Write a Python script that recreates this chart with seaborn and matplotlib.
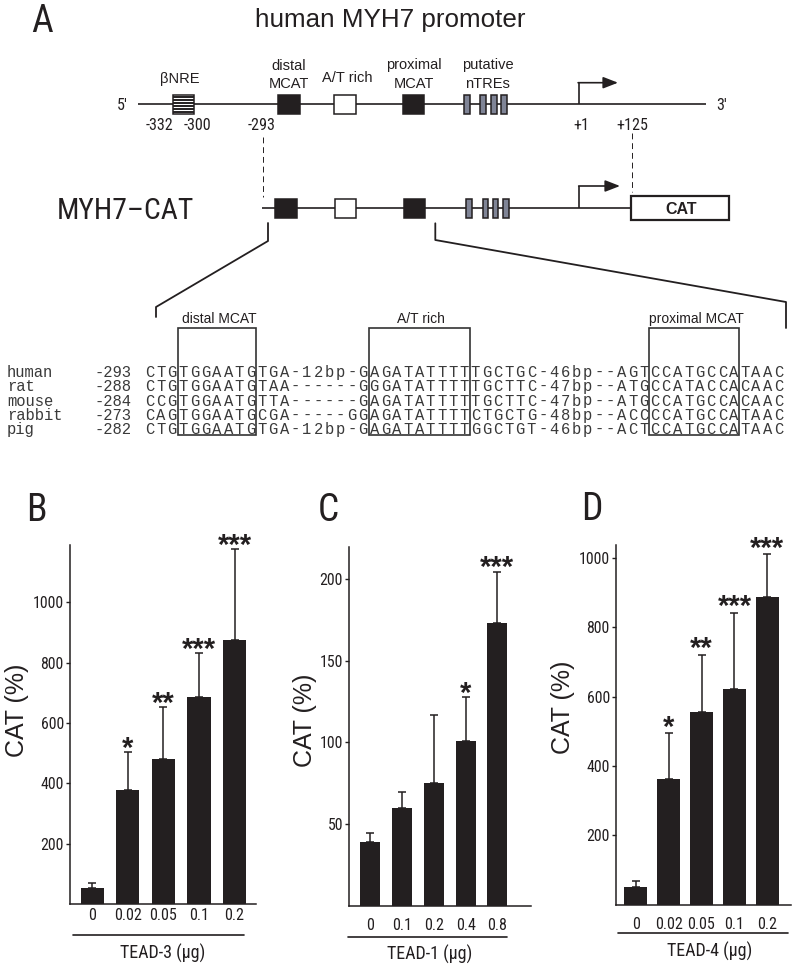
import numpy as np
import pandas as pd
import matplotlib
matplotlib.use("Agg")
import matplotlib.pyplot as plt
import seaborn as sns
from matplotlib import font_manager
from matplotlib.font_manager import FontProperties
from matplotlib.textpath import TextPath
from matplotlib.patches import Rectangle

# ---------------- data ----------------
tead3_doses = ["0", "0.02", "0.05", "0.1", "0.2"]
tead3_mean = [53, 379, 479, 687, 874]
tead3_err = [16, 125, 174, 146, 302]
tead3_sig = ["", "*", "**", "***", "***"]

tead1_doses = ["0", "0.1", "0.2", "0.4", "0.8"]
tead1_mean = [39, 60, 75, 101, 173]
tead1_err = [5.5, 10, 42, 26.5, 31.5]
tead1_sig = ["", "", "", "*", "***"]

tead4_doses = ["0", "0.02", "0.05", "0.1", "0.2"]
tead4_mean = [51, 363, 556, 622, 887]
tead4_err = [15.5, 131, 164, 221, 124]
tead4_sig = ["", "*", "**", "***", "***"]

species = ["human", "rat", "mouse", "rabbit", "pig"]
seq_start = ["-293", "-288", "-284", "-273", "-282"]
sequences = [
    "CTGTGGAATGTGA-12bp-GAGATATTTTTGCTGC-46bp--AGTCCATGCCATAAC",
    "CTGTGGAATGTAA------GGGATATTTTTGCTTC-47bp--ATGCCATACCACAAC",
    "CCGTGGAATGTTA------GAGATATTTTTGCTTC-47bp--ATGCCATGCCACAAC",
    "CAGTGGAATGCGA-----GGAGATATTTTCTGCTG-48bp--ACCCCATGCCATAAC",
    "CTGTGGAATGTGA-12bp-GAGATATTTTGGCTGT-46bp--ACTCCATGCCATAAC",
]
motif_names = ["distal MCAT", "A/T rich", "proximal MCAT"]
motif_chars = [(3, 10), (20, 29), (45, 53)]   # character spans in the alignment

# ---------------- style ----------------
sns.set_style("ticks")
REG = "Liberation Sans"
MONO = "Liberation Mono"
plt.rcParams["font.family"] = [REG, "DejaVu Sans"]
INK = "#231f20"


def find_narrow():
    prefs = ["Liberation Sans Narrow", "Arial Narrow", "Roboto Condensed", "Noto Sans",
             "Open Sans", "DejaVu Sans", "Lato", "Inter"]
    stretch_rank = {"condensed": 0, "semi-condensed": 1, "extra-condensed": 2,
                    "ultra-condensed": 3}
    cands = []
    for f in font_manager.fontManager.ttflist:
        narrowish = ("Narrow" in f.name or "Condensed" in f.name
                     or str(f.stretch) in stretch_rank)
        if not narrowish or f.style != "normal":
            continue
        try:
            w = int(f.weight)
        except (TypeError, ValueError):
            w = 400 if str(f.weight) in ("normal", "regular", "book") else 700
        if w != 400:
            continue
        base = next((i for i, p in enumerate(prefs) if f.name.startswith(p)), len(prefs))
        cands.append((base, stretch_rank.get(str(f.stretch), 0), f.fname))
    if not cands:
        return FontProperties(family=REG)
    cands.sort()
    return FontProperties(fname=cands[0][2])


NFP = find_narrow()


def ink_width(s, fp, pt):
    tp = TextPath((0, 0), s, size=pt * 100 / 72, prop=fp)
    return tp.get_extents().width


# scale narrow sizes so that widths match the reference
NK = min(1.05, 134.0 / ink_width("MYH7–CAT", NFP, 22))


def nfp(pt):
    p = NFP.copy()
    p.set_size(pt * NK)
    return p


W, H = 796, 967
fig = plt.figure(figsize=(W / 100, H / 100), dpi=100)


def add_ax(l, r, t, b):
    return fig.add_axes([l / W, 1 - b / H, (r - l) / W, (b - t) / H])


panels = [
    dict(box=(70, 256, 545, 904), doses=tead3_doses, mean=tead3_mean, err=tead3_err,
         sig=tead3_sig, xlim=(-0.62, 4.6), ylim=1190, ticks=[200, 400, 600, 800, 1000],
         width=0.65, xpad=2.9, star_off=-3.5),
    dict(box=(349.3, 530.7, 547, 906), doses=tead1_doses, mean=tead1_mean, err=tead1_err,
         sig=tead1_sig, xlim=(-0.66, 5.05), ylim=219.5, ticks=[50, 100, 150, 200],
         width=0.63, xpad=8.6, star_off=-3.2),
    dict(box=(616, 790.7, 545, 904.5), doses=tead4_doses, mean=tead4_mean, err=tead4_err,
         sig=tead4_sig, xlim=(-0.6, 4.71), ylim=1038, ticks=[200, 400, 600, 800, 1000],
         width=0.7, xpad=9.0, star_off=-1.6),
]

for p in panels:
    ax = add_ax(*p["box"])
    df = pd.DataFrame({"dose": p["doses"], "cat": p["mean"]})
    sns.barplot(data=df, x="dose", y="cat", order=p["doses"], color=INK, width=p["width"],
                saturation=1, edgecolor=INK, linewidth=0, errorbar=None, ax=ax)
    xs = np.arange(len(p["doses"]))
    ax.errorbar(xs, p["mean"], yerr=[np.zeros(len(xs)), p["err"]], fmt="none",
                ecolor=INK, elinewidth=1.1, capsize=3.2, capthick=1.1, zorder=3)
    ax.set_xlim(*p["xlim"])
    ax.set_ylim(0, p["ylim"])
    ax.set_yticks(p["ticks"])
    ax.set_yticklabels([str(t) for t in p["ticks"]])
    ax.tick_params(axis="y", length=3, width=1, pad=1.5, colors=INK)
    ax.tick_params(axis="x", length=0, pad=p["xpad"], colors=INK)
    for lab in ax.get_yticklabels():
        lab.set_fontproperties(nfp(11.8))
    for lab in ax.get_xticklabels():
        lab.set_fontproperties(nfp(12))
    sns.despine(ax=ax)
    for s in ("left", "bottom"):
        ax.spines[s].set_linewidth(1.1)
        ax.spines[s].set_color(INK)
    ax.set_xlabel("")
    ax.set_ylabel("")
    ax.patch.set_alpha(0)
    for i, s in enumerate(p["sig"]):
        if s:
            ax.annotate(s, (i, p["mean"][i] + p["err"][i]), xytext=(0, p["star_off"]),
                        textcoords="offset points", ha="center", va="baseline",
                        fontsize=21, fontweight="bold", family=REG, color=INK)

# ---------------- overlay (panel A & annotations) ----------------
ov = fig.add_axes([0, 0, 1, 1], zorder=10)
ov.set_xlim(0, W)
ov.set_ylim(H, 0)
ov.axis("off")
ov.patch.set_alpha(0)


def T(x, yc, s, pt, fam=REG, narrow=False, ha="center", **kw):
    """text whose cap-height centre sits at yc (pixel coords)"""
    if narrow:
        fp = nfp(pt)
        size = pt * NK
        ov.text(x, yc + 0.5 * size, s, fontproperties=fp, ha=ha, va="baseline",
                color=INK, **kw)
    else:
        ov.text(x, yc + 0.5 * pt, s, fontsize=pt, family=[fam, "DejaVu Sans"], ha=ha,
                va="baseline", color=INK, **kw)


def TB(x, base, s, pt, fam=REG, ha="center", **kw):
    ov.text(x, base, s, fontsize=pt, family=[fam, "DejaVu Sans"], ha=ha,
            va="baseline", color=INK, **kw)


# panel letters
T(42, 18, "A", 28, narrow=True)
T(36, 507, "B", 28, narrow=True)
T(328, 507, "C", 28, narrow=True)
T(592, 506, "D", 28, narrow=True)

# title
T(390, 18, "human MYH7 promoter", 18.7)

LW = 1.2
# top promoter line
y0 = 104.3
ov.plot([138, 706], [y0, y0], color=INK, lw=LW, solid_capstyle="butt")
T(122, y0, "5'", 12, narrow=True)
T(722, y0, "3'", 12, narrow=True)

bh = 19.5


def box(x0, x1, yc, fc, h=bh, lw=1.1):
    ov.add_patch(Rectangle((x0, yc - h / 2), x1 - x0, h, facecolor=fc, edgecolor=INK,
                           lw=lw, zorder=5))


# beta NRE striped box
box(172.7, 193.5, y0, "white")
ov.hlines(np.linspace(y0 - bh / 2 + 2.3, y0 + bh / 2 - 2.3, 6), 172.7, 193.5, color=INK,
          lw=1.4, zorder=6)
box(278.3, 300, y0, INK)
box(334, 355.7, y0, "white")
box(403.3, 424.3, y0, INK)
NTRE = "#7f8496"
for a, b in [(464.3, 470), (480.3, 486), (491, 496.7), (501, 506.7)]:
    box(a, b, y0, NTRE)

# labels above
TB(180, 83, "βNRE", 10.5)
TB(289, 69.5, "distal", 10.5)
TB(289, 87.5, "MCAT", 10.5)
TB(347, 82, "A/T rich", 10.5)
TB(414, 68.5, "proximal", 10.5)
TB(414, 88, "MCAT", 10.5)
TB(487.7, 68.5, "putative", 10.5)
TB(487.7, 87.5, "nTREs", 10.5)

# numbers below
for x, s in [(159, "-332"), (197, "-300"), (262, "-293"), (581, "+1"), (632.7, "+125")]:
    T(x, 124, s, 12, narrow=True)


def tss(x, ybase, ytop, xend):
    ov.plot([x, x], [ybase, ytop], color=INK, lw=LW, solid_capstyle="butt")
    ov.annotate("", xy=(xend, ytop), xytext=(x - 0.6, ytop),
                arrowprops=dict(arrowstyle="-|>,head_length=0.9,head_width=0.35",
                                lw=LW, color=INK, shrinkA=0, shrinkB=0))


tss(578.7, y0, 82.7, 618)

# dashed projection lines
ov.plot([263.3, 263.3], [136.7, 196.7], color=INK, lw=0.7, dashes=(6, 4))
ov.plot([631.7, 631.7], [133, 191.7], color=INK, lw=0.7, dashes=(6, 4))

# MYH7-CAT construct
y1 = 208.3
T(125.5, y1, "MYH7–CAT", 22, narrow=True)
ov.plot([261.7, 631], [y1, y1], color=INK, lw=LW, solid_capstyle="butt")
box(275, 296.7, y1, INK)
box(335, 356, y1, "white")
box(404, 425.3, y1, INK)
for a, b in [(466, 472), (482.7, 488.3), (493.3, 498.3), (502.7, 508.7)]:
    box(a, b, y1, NTRE)
tss(579.3, y1, 186, 620)
ov.add_patch(Rectangle((631, 196), 98.3, 24, facecolor="white", edgecolor=INK, lw=1.6,
                       zorder=5))
T(681, 208, "CAT", 11.5, fontweight="bold", zorder=7)

# zoom brackets
ov.plot([268, 268, 156, 156], [223, 241, 307, 317], color=INK, lw=1.3)
ov.plot([435.3, 435.3, 786, 786], [223.3, 240, 302, 328], color=INK, lw=1.3)

# ---------------- alignment ----------------
ADV = 11.23          # letter-spaced sequence pitch (px)
SX = 144.0
MONO_PT = 11.2
SEQ_COL = "#3a3a3a"
base0 = 376.7
dy = 14.4
for i, (sp, st, sq) in enumerate(zip(species, seq_start, sequences)):
    b = base0 + i * dy
    ov.text(7.0, b, sp, fontsize=MONO_PT, family=MONO, ha="left", va="baseline",
            color=SEQ_COL)
    ov.text(131.5, b, st, fontsize=MONO_PT, family=MONO, ha="right", va="baseline",
            color=SEQ_COL)
    for j, ch in enumerate(sq):
        ov.text(SX + (j + 0.5) * ADV, b, ch, fontsize=MONO_PT, family=MONO,
                ha="center", va="baseline", color=SEQ_COL)

for name, (c0, c1) in zip(motif_names, motif_chars):
    x0 = SX + c0 * ADV
    x1 = SX + c1 * ADV
    ov.add_patch(Rectangle((x0, 328), x1 - x0, 107, facecolor="none", edgecolor="#333333",
                           lw=1.2, zorder=5))
    T((x0 + x1) / 2 + 2, 318, name, 10)

# ---------------- bar-chart labels ----------------
for cx, cy in [(17, 710), (305, 720), (563, 707)]:
    ov.text(cx, cy, "CAT (%)", rotation=90, ha="center", va="center", fontsize=18,
            family=[REG, "DejaVu Sans"], color=INK)

for (x0, x1, yl), (cx, cy), lab in [((73, 244, 935), (163, 952), "TEAD-3 (μg)"),
                                      ((348, 507, 936.7), (430, 953), "TEAD-1 (μg)"),
                                      ((618, 788, 933.3), (710, 950), "TEAD-4 (μg)")]:
    ov.plot([x0, x1], [yl, yl], color=INK, lw=1.2)
    T(cx, cy, lab, 13.4, narrow=True)

fig.savefig("out.png", dpi=100)
